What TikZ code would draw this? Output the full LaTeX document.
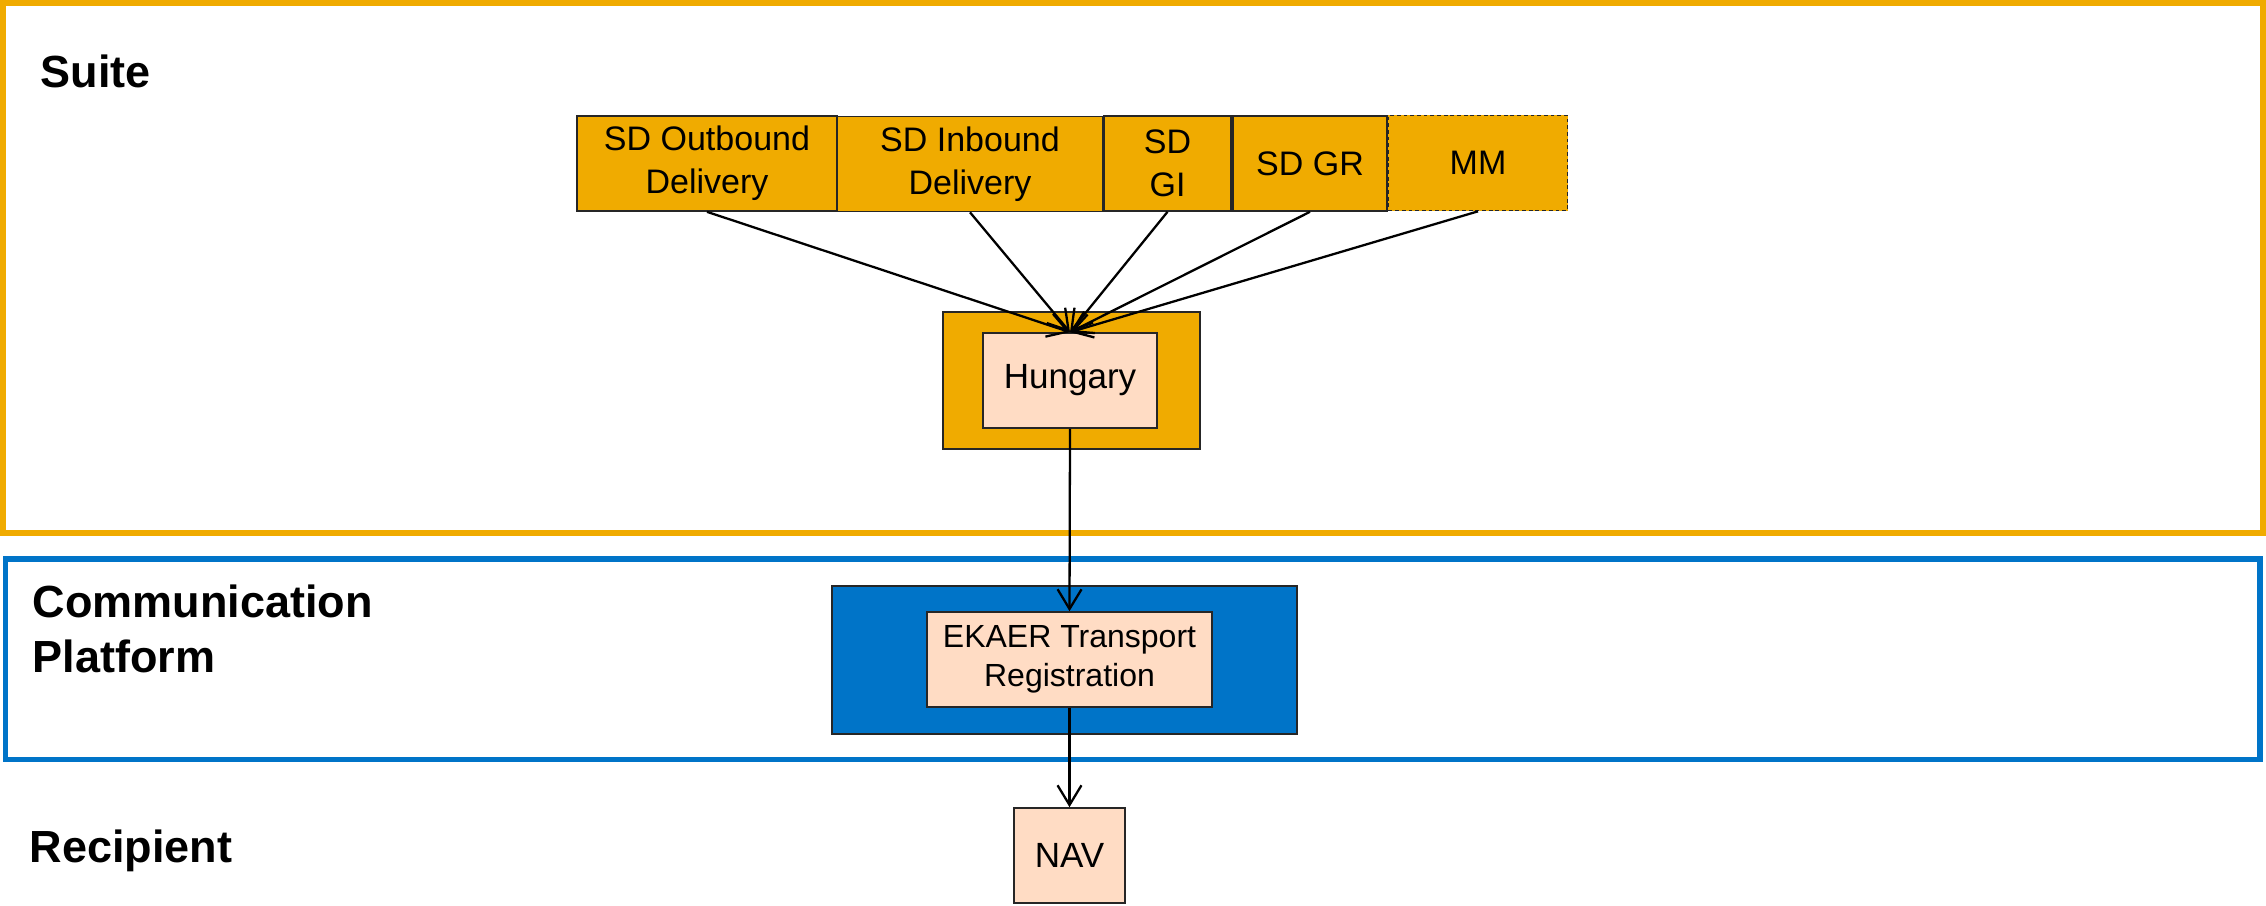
\documentclass[tikz,border=0pt]{standalone}
\usepackage{fontspec}
\setmainfont{Liberation Sans}
\usetikzlibrary{arrows.meta}
\definecolor{sapgold}{HTML}{F0AB00}
\definecolor{sapblue}{HTML}{0074C8}
\definecolor{peach}{HTML}{FFDCC4}
\tikzset{
  heading/.style={anchor=base west, inner sep=0pt, align=left, font=\fontsize{12.8}{15.4}\selectfont\bfseries},
  srcbox/.style={draw=black!85, line width=0.45pt, fill=sapgold, inner sep=0pt, align=center,
     minimum height=0.95cm, font=\fontsize{9.67}{12.2}\selectfont},
  peachbox/.style={draw=black!85, line width=0.45pt, fill=peach, inner sep=0pt, align=center,
     minimum height=0.95cm},
  holder/.style={draw=black!85, line width=0.45pt, inner sep=0pt},
  flow/.style={draw=black, line width=0.65pt, -{Straight Barb[length=5.6pt,width=6.8pt,line width=0.65pt]}},
}
\begin{document}
\begin{tikzpicture}[x=0.01cm, y=-0.01cm]
\useasboundingbox (0,0) rectangle (2266,905);
% layer frames
\draw[sapgold, line width=1.7pt] (3,3) rectangle (2263,533);
\draw[sapblue, line width=1.5pt] (5.5,559) rectangle (2260,759.5);
% headings
\node[heading] (suite) at (40,87) {Suite};
\node[heading] (comm) at (32,672) {Communication\\Platform};
\node[heading] (recip) at (29,862) {Recipient};
% source boxes
\node[srcbox, minimum width=2.60cm] (outb) at (707,163.5) {SD Outbound\\Delivery};
\node[srcbox, minimum width=2.66cm] (inb) at (970,164) {SD Inbound\\Delivery};
\node[srcbox, minimum width=1.27cm] (gi) at (1167.5,163.5) {SD\\GI};
\node[srcbox, minimum width=1.54cm] (gr) at (1310,163.5) {SD GR};
\node[srcbox, minimum width=1.79cm, dash pattern=on 1.1pt off 0.8pt] (mm) at (1478,163) {MM};
% Hungary
\node[holder, fill=sapgold, minimum width=2.57cm, minimum height=1.37cm] (hungholder) at (1071.5,380.5) {};
\node[peachbox, minimum width=1.74cm, font=\fontsize{9.96}{12}\selectfont] (hung) at (1070,380.5) {Hungary};
% EKAER
\node[holder, fill=sapblue, minimum width=4.65cm, minimum height=1.48cm] (ekholder) at (1064.5,660) {};
\node[peachbox, minimum width=2.85cm, font=\fontsize{9.1}{10.95}\selectfont] (ekaer) at (1069.5,659.5) {EKAER Transport\\Registration};
% NAV
\node[peachbox, minimum width=1.11cm, font=\fontsize{9.96}{12}\selectfont] (nav) at (1069.5,855.5) {NAV};
% connectors
\foreach \s in {outb,inb,gi,gr,mm}{
  \draw[flow] (\s.south) -- (hung.north);
}
\draw[flow] (hung.south) -- (ekaer.north);
\draw[flow] (ekaer.south) -- (nav.north);
\end{tikzpicture}
\end{document}
